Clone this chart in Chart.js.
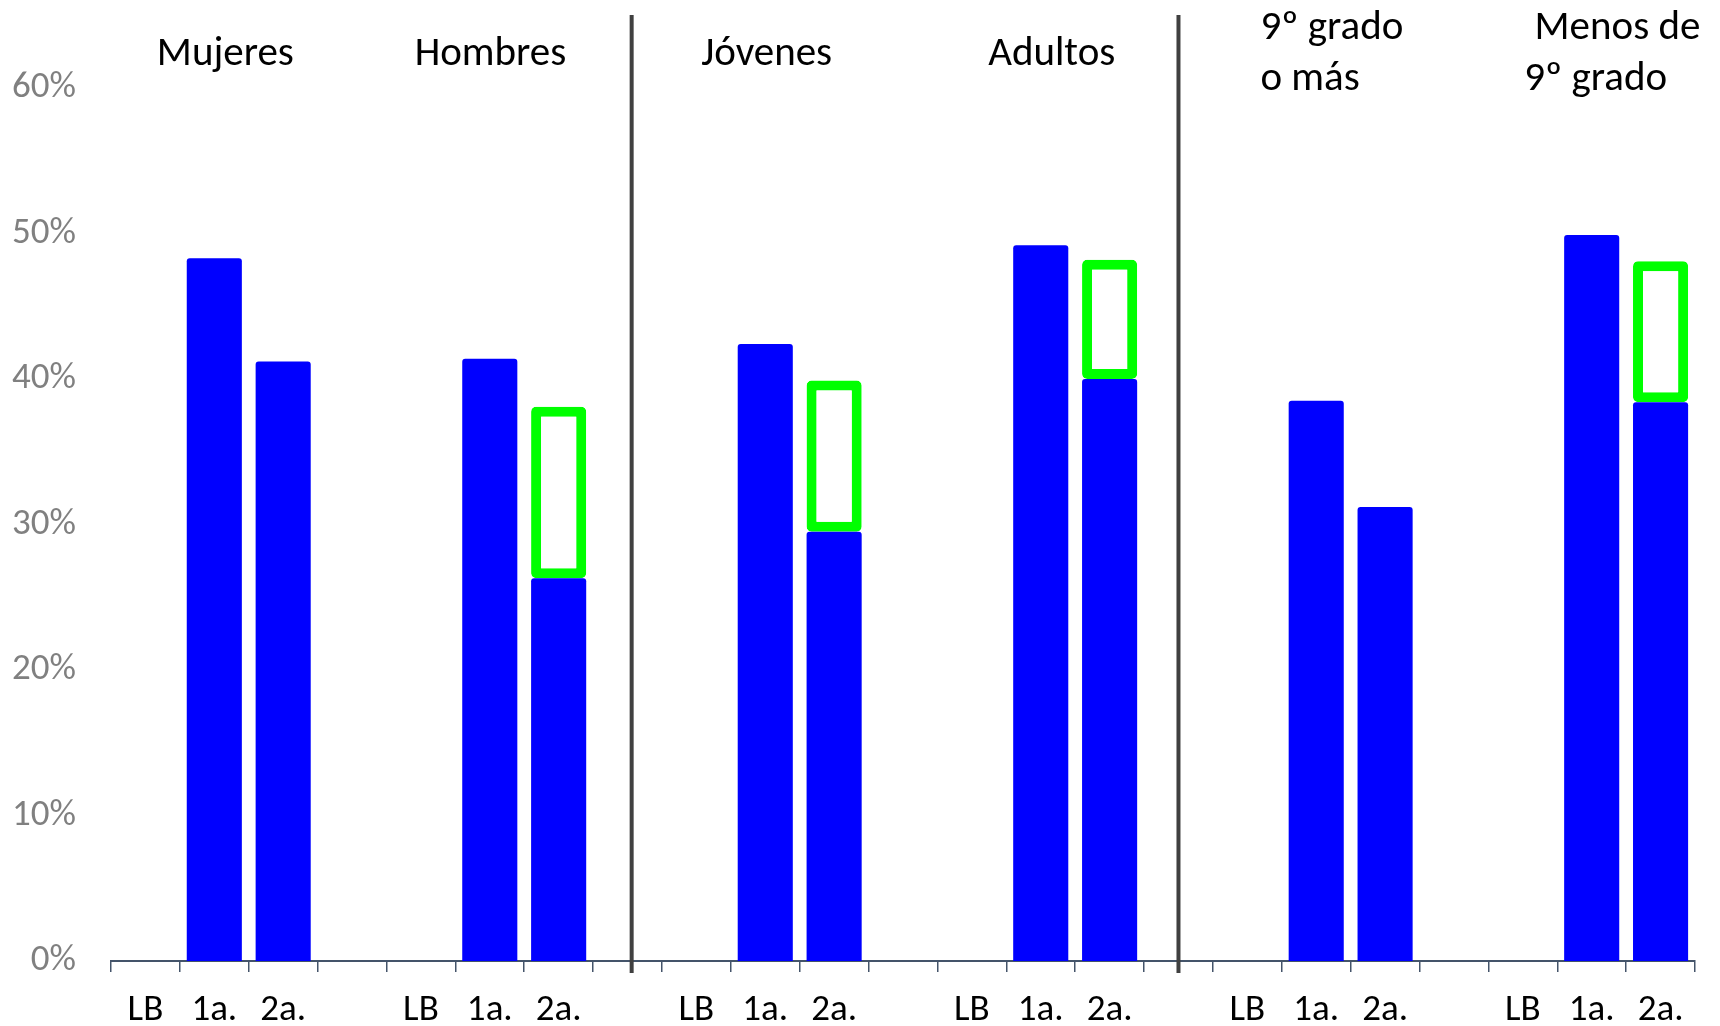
<!DOCTYPE html>
<html>
<head>
<meta charset="utf-8">
<script src="https://cdn.jsdelivr.net/npm/chart.js@4"></script>
<style>
html,body{margin:0;padding:0;background:#fff;}
#wrap{width:1720px;height:1026px;position:relative;}
</style>
</head>
<body>
<div id="wrap"><canvas id="c"></canvas></div>
<script>
// ---- data ----
const categories = [
  'LB','1a.','2a.','',
  'LB','1a.','2a.','',
  'LB','1a.','2a.','',
  'LB','1a.','2a.','',
  'LB','1a.','2a.','',
  'LB','1a.','2a.'
];
const groupTitles = ['Mujeres','Hombres','Jóvenes','Adultos','9º grado\no más','Menos de\n9º grado'];
const blueValues = [
  null,48.3,41.2,null,
  null,41.4,26.3,null,
  null,42.4,29.5,null,
  null,49.2,40.0,null,
  null,38.5,31.2,null,
  null,49.9,38.4
];
const greenLow = [
  null,null,null,null,
  null,null,26.3,null,
  null,null,29.5,null,
  null,null,40.0,null,
  null,null,null,null,
  null,null,38.4
];
const greenHigh = [
  null,null,null,null,
  null,null,38.1,null,
  null,null,39.9,null,
  null,null,48.2,null,
  null,null,null,null,
  null,null,48.1
];
const yTickLabels = ['0%','10%','20%','30%','40%','50%','60%'];

const FONT = 'Carlito, Lato, "Open Sans", sans-serif';

const greenData = greenLow.map((lo,i)=> lo==null ? null : [lo, greenHigh[i]]);

const overlay = {
  id: 'overlay',
  afterDraw(chart, args, opts) {
    const ctx = chart.ctx;
    const x = chart.scales.x;
    const n = categories.length;
    const w = (x.right - x.left) / n;
    const px = p => x.left + (p + 0.5) * w;
    ctx.save();
    // dividers
    ctx.strokeStyle = '#404040';
    ctx.lineWidth = 4;
    opts.dividers.forEach(p => {
      const X = px(p);
      ctx.beginPath();
      ctx.moveTo(X, opts.divTop);
      ctx.lineTo(X, x.top + opts.divBelow);
      ctx.stroke();
    });
    // group titles
    ctx.fillStyle = '#000';
    ctx.font = opts.titleSize + 'px ' + FONT;
    ctx.textBaseline = 'alphabetic';
    groupTitles.forEach((t, gi) => {
      const spec = opts.titles[gi];
      const lines = t.split('\n');
      ctx.textAlign = spec.align;
      lines.forEach((ln, li) => {
        ctx.fillText(ln, px(spec.pos[li]), spec.base + li * opts.lineGap);
      });
    });
    ctx.restore();
  }
};

new Chart(document.getElementById('c'), {
  type: 'bar',
  data: {
    labels: categories,
    datasets: [
      {
        label: 'blue',
        data: blueValues,
        backgroundColor: '#0000FF',
        borderWidth: 0,
        borderRadius: {topLeft: 3, topRight: 3, bottomLeft: 0, bottomRight: 0},
        borderSkipped: 'start',
        barPercentage: 0.8,
        categoryPercentage: 1.0
      },
      {
        label: 'green',
        data: greenData,
        backgroundColor: '#FFFFFF',
        borderColor: '#00FF00',
        borderWidth: 10,
        borderRadius: 5,
        borderSkipped: false,
        barPercentage: 0.8,
        categoryPercentage: 1.0
      }
    ]
  },
  options: {
    responsive: true,
    maintainAspectRatio: false,
    animation: false,
    layout: {padding: {top: 88, right: 25, left: 0, bottom: 0}},
    plugins: {
      legend: {display: false},
      tooltip: {enabled: false},
      overlay: {
        dividers: [7.06, 15.0],
        divTop: 15,
        divBelow: 12,
        titleSize: 41,
        lineGap: 51,
        titles: [
          {pos: [1.16], align: 'center', base: 65},
          {pos: [5.01], align: 'center', base: 65},
          {pos: [9.02], align: 'center', base: 65},
          {pos: [13.16], align: 'center', base: 65},
          {pos: [16.19, 16.19], align: 'left', base: 39},
          {pos: [20.17, 20.02], align: 'left', base: 39}
        ]
      }
    },
    scales: {
      x: {
        stacked: true,
        offset: true,
        z: 1,
        grid: {
          display: true,
          offset: true,
          drawOnChartArea: false,
          drawTicks: true,
          tickLength: 11,
          color: '#44546A',
          lineWidth: 1.5
        },
        border: {display: true, color: '#44546A', width: 2},
        ticks: {
          color: '#000',
          font: {family: FONT, size: 37},
          padding: 17,
          maxRotation: 0,
          autoSkip: false
        },
        afterFit(s) { s.height = 65; }
      },
      y: {
        min: 0,
        max: 60,
        stacked: false,
        grid: {display: false},
        border: {display: false},
        ticks: {
          stepSize: 10,
          color: '#808080',
          font: {family: FONT, size: 37},
          padding: 27,
          callback: (v, i) => yTickLabels[i]
        },
        afterFit(s) { s.width = 111; }
      }
    }
  },
  plugins: [overlay]
});
</script>
</body>
</html>
